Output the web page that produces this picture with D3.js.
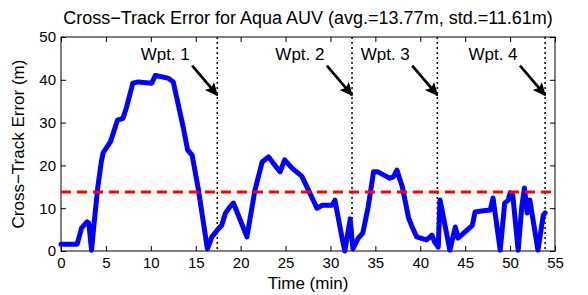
<!DOCTYPE html>
<html>
<head>
<meta charset="utf-8">
<script src="https://cdn.jsdelivr.net/npm/d3@7"></script>
<style>
  body { margin: 0; background: #fff; }
  svg { font-family: "Liberation Sans", Arial, sans-serif; }
</style>
</head>
<body>
<script>
// Chart settings
const width = 588
const height = 295
const margin = { top: 37, right: 33, bottom: 44, left: 61 }
const innerW = width - margin.left - margin.right
const innerH = height - margin.top - margin.bottom

// Data
const times = [0, 1.8, 2.3, 2.9, 3.1, 3.4, 3.7, 4.1, 4.5, 4.7, 5.5, 6.3, 6.9, 7.3, 8.0, 8.6, 10.1, 10.5, 11.9, 12.5,
  13.6, 14.1, 14.6, 15.3, 16.3, 16.8, 17.4, 17.9, 18.3, 18.8, 19.2, 19.6, 20.7, 21.6, 22.4, 23.1, 23.6, 24.4, 24.9,
  25.7, 26.4, 26.8, 27.7, 28.5, 29.1, 30.2, 30.5, 30.7, 31.3, 31.6, 32.2, 32.5, 33.1, 33.6, 34.2, 34.8, 35.3, 35.9,
  36.6, 37.0, 37.4, 38.0, 38.7, 39.1, 39.6, 40.7, 41.3, 41.6, 42.0, 42.2, 43.3, 43.9, 44.2, 45.8, 46.1, 46.6, 47.8,
  48.1, 48.9, 49.4, 49.8, 50.0, 50.3, 50.9, 51.3, 51.6, 51.9, 52.2, 53.1, 53.7, 53.9]
const errors = [1.6, 1.6, 5.4, 6.8, 6.5, 0.2, 6.8, 15, 21, 23, 25.5, 30.6, 31, 33.6, 39.2, 39.5, 39.2, 41, 40.4, 39.5,
  29, 23.6, 22.4, 14.3, 0.5, 3.3, 4.9, 6, 8.8, 10.3, 11.2, 9.1, 3.3, 14.3, 20.8, 22, 20.6, 18.5, 21.3,
  19.4, 18.2, 17.5, 13.6, 10, 10.7, 10.7, 11.9, 9.6, 3, 0, 7.5, 0.5, 3, 4.2, 10.3, 18.5, 18.5, 17.8,
  17, 17.3, 18.9, 15, 7.7, 5.6, 3.3, 2.6, 3.7, 2.1, 0.9, 11.9, 0.2, 5.6, 3, 6, 9.1, 9.3, 9.6,
  12.4, 0.2, 11.2, 11.9, 13.6, 13, 0.2, 10.3, 14.7, 8.9, 11.9, 0.2, 8.4, 8.9]
const average = 13.77
const waypoints = [17.4, 32.4, 41.9, 53.9]
const waypointLabels = ['Wpt. 1', 'Wpt. 2', 'Wpt. 3', 'Wpt. 4']
const xTicks = [0, 5, 10, 15, 20, 25, 30, 35, 40, 45, 50, 55]
const yTicks = [0, 10, 20, 30, 40, 50]

const data = times.map((t, i) => ({ t, v: errors[i] }))

const svg = d3.select('body').append('svg')
  .attr('width', width)
  .attr('height', height)

const g = svg.append('g')
  .attr('transform', `translate(${margin.left}, ${margin.top})`)

// Scales
const xScale = d3.scaleLinear().domain([0, 55]).range([0, innerW])
const yScale = d3.scaleLinear().domain([0, 50]).range([innerH, 0])

// Axes, MATLAB style ticks pointing inward
const tickLen = 5
g.append('g')
  .attr('transform', `translate(0, ${innerH})`)
  .call(d3.axisBottom(xScale).tickValues(xTicks).tickSizeInner(-tickLen).tickSizeOuter(0).tickPadding(6))
  .call(a => a.selectAll('text').attr('dy', '0.71em').style('font-size', '15px'))
g.append('g')
  .call(d3.axisTop(xScale).tickValues(xTicks).tickSizeInner(-tickLen).tickSizeOuter(0).tickFormat(''))
g.append('g')
  .call(d3.axisLeft(yScale).tickValues(yTicks).tickSizeInner(-tickLen).tickSizeOuter(0).tickPadding(5))
  .call(a => a.selectAll('text').style('font-size', '15px'))
g.append('g')
  .attr('transform', `translate(${innerW}, 0)`)
  .call(d3.axisRight(yScale).tickValues(yTicks).tickSizeInner(-tickLen).tickSizeOuter(0).tickFormat(''))

g.selectAll('.domain').remove()
g.selectAll('.tick line').attr('stroke', '#000')
g.selectAll('.tick text').attr('fill', '#000').style('font-family', '"Liberation Sans", Arial, sans-serif')

// Box
g.append('rect')
  .attr('width', innerW)
  .attr('height', innerH)
  .attr('fill', 'none')
  .attr('stroke', '#000')
  .attr('stroke-width', 1)

// Waypoint dotted lines
g.selectAll('.wpt')
  .data(waypoints)
  .enter()
  .append('line')
  .attr('class', 'wpt')
  .attr('x1', d => xScale(d))
  .attr('x2', d => xScale(d))
  .attr('y1', 0)
  .attr('y2', innerH)
  .attr('stroke', '#000')
  .attr('stroke-width', 1.5)
  .attr('stroke-dasharray', '2,3')

// Error line
const line = d3.line().x(d => xScale(d.t)).y(d => yScale(d.v))
g.append('path')
  .datum(data)
  .attr('d', line)
  .attr('fill', 'none')
  .attr('stroke', '#0000ff')
  .attr('stroke-width', 5)
  .attr('stroke-linejoin', 'round')
  .attr('stroke-linecap', 'round')

// Average line
g.append('line')
  .attr('x1', 0)
  .attr('x2', innerW)
  .attr('y1', yScale(average))
  .attr('y2', yScale(average))
  .attr('stroke', '#ff0000')
  .attr('stroke-width', 3)
  .attr('stroke-dasharray', '10,6')

// Arrow heads
svg.append('defs').append('marker')
  .attr('id', 'head')
  .attr('viewBox', '0 0 10 10')
  .attr('refX', 9)
  .attr('refY', 5)
  .attr('markerWidth', 5)
  .attr('markerHeight', 5)
  .attr('markerUnits', 'strokeWidth')
  .attr('orient', 'auto')
  .append('path')
  .attr('d', 'M0,0.5 L10,5 L0,9.5 L2,5 Z')
  .attr('fill', '#000')

// Waypoint annotations
waypoints.forEach((w, i) => {
  g.append('line')
    .attr('x1', xScale(w - 2.8))
    .attr('y1', yScale(43.3))
    .attr('x2', xScale(w))
    .attr('y2', yScale(36.4))
    .attr('stroke', '#000')
    .attr('stroke-width', 2.7)
    .attr('marker-end', 'url(#head)')
  g.append('text')
    .attr('x', xScale(w - 5.8))
    .attr('y', yScale(44.6))
    .attr('text-anchor', 'middle')
    .style('font-size', '17px')
    .text(waypointLabels[i])
})

// Title
svg.append('text')
  .attr('x', 308)
  .attr('y', 24)
  .attr('text-anchor', 'middle')
  .style('font-size', '18px')
  .text('Cross\u2212Track Error for Aqua AUV (avg.=13.77m, std.=11.61m)')

// Axis labels
svg.append('text')
  .attr('x', margin.left + innerW / 2)
  .attr('y', 289)
  .attr('text-anchor', 'middle')
  .style('font-size', '17px')
  .text('Time (min)')

svg.append('text')
  .attr('transform', `translate(24, ${margin.top + innerH / 2}) rotate(-90)`)
  .attr('text-anchor', 'middle')
  .style('font-size', '17px')
  .text('Cross\u2212Track Error (m)')
</script>
</body>
</html>
